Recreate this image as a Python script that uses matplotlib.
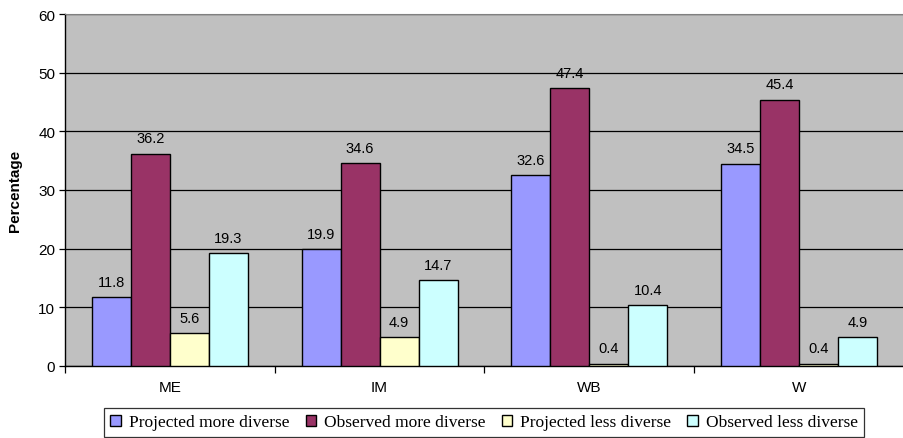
import matplotlib
matplotlib.use("Agg")
import matplotlib.pyplot as plt
import numpy as np

categories = ["ME", "IM", "WB", "W"]
series_names = ["Projected more diverse", "Observed more diverse",
                "Projected less diverse", "Observed less diverse"]
projected_more = [11.8, 19.9, 32.6, 34.5]
observed_more = [36.2, 34.6, 47.4, 45.4]
projected_less = [5.6, 4.9, 0.4, 0.4]
observed_less = [19.3, 14.7, 10.4, 4.9]
y_ticks = [0, 10, 20, 30, 40, 50, 60]

colors = ["#9999FF", "#993366", "#FFFFCC", "#CCFFFF"]
series = [projected_more, observed_more, projected_less, observed_less]

fig = plt.figure(figsize=(9.04, 4.39), dpi=100)
ax = fig.add_axes([65 / 904, 72 / 439, 839 / 904, 352 / 439])
ax.set_facecolor("#C0C0C0")

x = np.arange(len(categories))
width = 0.186
offsets = (np.arange(4) - 1.5) * width

handles = []
for vals, off, col, name in zip(series, offsets, colors, series_names):
    bars = ax.bar(x + off, vals, width, color=col, edgecolor="black",
                  linewidth=1.0, label=name, zorder=3)
    handles.append(bars)
    for b, v in zip(bars, vals):
        ax.text(b.get_x() + b.get_width() / 2, v + 1.4, f"{v:.1f}",
                ha="center", va="bottom", fontsize=10.5,
                family="Liberation Sans", zorder=4)

ax.set_xlim(-0.5, len(categories) - 0.5)
ax.set_ylim(0, 60)
ax.set_yticks(y_ticks)
ax.set_yticklabels([str(t) for t in y_ticks], family="Liberation Sans", fontsize=11)
ax.yaxis.grid(True, color="black", linewidth=0.9, zorder=0)
ax.set_axisbelow(True)

# category labels centred, tick marks on category boundaries
ax.set_xticks(x)
ax.set_xticklabels(categories, family="Liberation Sans", fontsize=11)
ax.tick_params(axis="x", length=0, pad=10)
ax.set_xticks(np.arange(len(categories) + 1) - 0.5, minor=True)
ax.tick_params(axis="x", which="minor", length=5, width=0.9, direction="out")
ax.tick_params(axis="y", length=4, width=0.9, direction="out", pad=3)

for s in ["left", "bottom"]:
    ax.spines[s].set_color("black")
    ax.spines[s].set_linewidth(1.0)
ax.spines["top"].set_color("#808080")
ax.spines["right"].set_visible(False)

ax.set_ylabel("Percentage", family="Liberation Sans", fontsize=11,
              fontweight="bold", labelpad=12)

leg = fig.legend(handles=handles, labels=series_names, loc="lower center",
                 bbox_to_anchor=(484 / 904, 1.5 / 439), borderaxespad=0,
                 ncol=4, frameon=True,
                 fancybox=False, edgecolor="black", handlelength=0.6,
                 handleheight=0.6, handletextpad=0.45, columnspacing=0.95,
                 borderpad=0.35, prop={"family": "Liberation Serif", "size": 12.5})
leg.get_frame().set_linewidth(0.9)

fig.savefig("out.png", dpi=100)
